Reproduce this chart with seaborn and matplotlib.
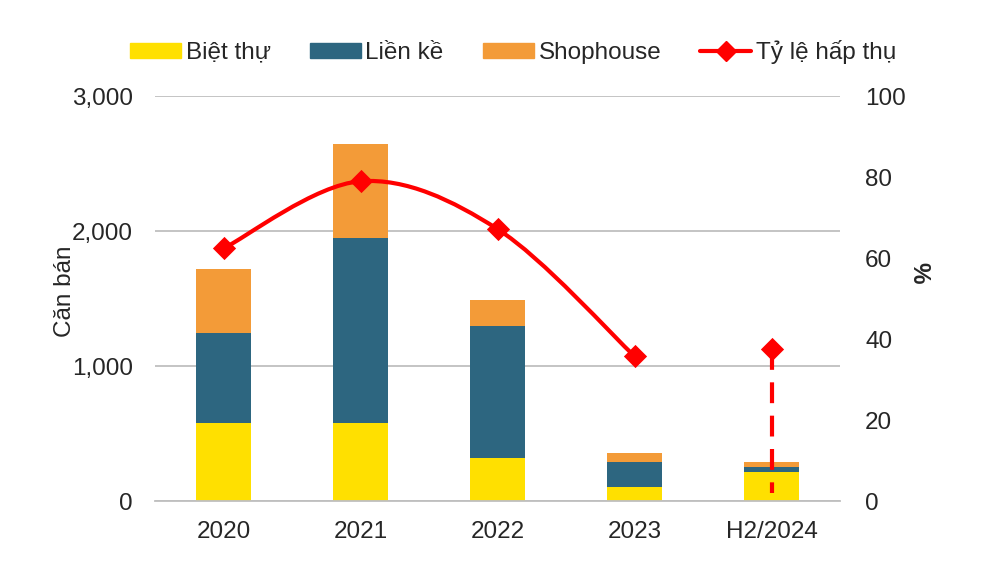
import numpy as np
import pandas as pd
import matplotlib
matplotlib.use("Agg")
import matplotlib.pyplot as plt
import seaborn as sns
from matplotlib.path import Path
from matplotlib.patches import PathPatch, Patch
from matplotlib.lines import Line2D

# Data
years = ["2020", "2021", "2022", "2023", "H2/2024"]
biet_thu = [580, 580, 318, 106, 212]
lien_ke = [662, 1371, 978, 185, 42]
shophouse = [477, 696, 193, 67, 35]
ty_le = [62.4, 79.0, 67.2, 35.8, 37.5]

c_yellow = "#FFE000"
c_blue = "#2D6680"
c_orange = "#F39B38"
c_red = "#FF0000"
c_grid = "#BFBFBF"
FS = 17.5

sns.set_style("white")
plt.rcParams["font.family"] = ["Liberation Sans", "DejaVu Sans"]

df = pd.DataFrame({"year": years, "biet_thu": biet_thu,
                   "lien_ke": lien_ke, "shophouse": shophouse})
df["top_lk"] = df["biet_thu"] + df["lien_ke"]
df["top_sh"] = df["top_lk"] + df["shophouse"]

fig, ax = plt.subplots(figsize=(10, 5.63), dpi=100)
fig.subplots_adjust(left=0.155, right=0.84, bottom=0.110, top=0.829)

# stacked bars: draw the totals first, then cover with the lower layers
for col, color in [("top_sh", c_orange), ("top_lk", c_blue), ("biet_thu", c_yellow)]:
    sns.barplot(data=df, x="year", y=col, color=color, width=0.4, saturation=1,
                linewidth=0, errorbar=None, ax=ax)

ax.set_xlim(-0.5, 4.5)
ax.set_ylim(0, 3000)
ax.set_yticks([0, 1000, 2000, 3000])
ax.set_yticklabels(["0", "1,000", "2,000", "3,000"])
ax.yaxis.grid(True, color=c_grid, lw=1.3)
ax.set_axisbelow(True)
for s in ["left", "right", "top"]:
    ax.spines[s].set_visible(False)
ax.spines["bottom"].set_color(c_grid)
ax.spines["bottom"].set_linewidth(1.3)
ax.tick_params(axis="y", length=0, pad=16, labelsize=FS)
ax.tick_params(axis="x", which="major", length=0, pad=14, labelsize=FS)
ax.set_xticks(np.arange(-0.5, 5, 1), minor=True)
ax.tick_params(axis="x", which="minor", length=7, color=c_grid, width=1.3)
ax.set_xlabel("")
ax.set_ylabel("Căn bán", fontsize=FS, rotation=90, va="center", ha="center",
              rotation_mode="anchor")
ax.yaxis.set_label_coords(-0.131, 0.518)

# absorption rate on the right axis
ax2 = ax.twinx()
ax2.set_ylim(0, 100)
ax2.set_yticks(range(0, 101, 20))
ax2.grid(False)
for s in ["left", "right", "top", "bottom"]:
    ax2.spines[s].set_visible(False)
ax2.tick_params(axis="y", length=0, pad=18, labelsize=FS)
ax2.set_ylabel("%", fontsize=FS, fontweight="bold", rotation=270, va="center",
               ha="center", rotation_mode="anchor")
ax2.yaxis.set_label_coords(1.115, 0.563)

# smoothed line through 2020-2023 (bezier, like an Excel smooth line)
pts = list(zip(range(4), ty_le[:4]))
verts = [pts[0]]
codes = [Path.MOVETO]
for i in range(3):
    p0 = pts[max(i - 1, 0)]
    p1 = pts[i]
    p2 = pts[i + 1]
    p3 = pts[min(i + 2, 3)]
    c1 = (p1[0] + (p2[0] - p0[0]) / 6, p1[1] + (p2[1] - p0[1]) / 6)
    c2 = (p2[0] - (p3[0] - p1[0]) / 6, p2[1] - (p3[1] - p1[1]) / 6)
    verts += [c1, c2, p2]
    codes += [Path.CURVE4] * 3
ax2.add_patch(PathPatch(Path(verts, codes), fill=False, edgecolor=c_red,
                        lw=3, capstyle="round", zorder=3))

# dashed drop line for H2/2024
ax2.plot([4, 4], [ty_le[4], 2], color=c_red, lw=3, dashes=(5, 3), zorder=3)

sns.scatterplot(x=list(range(len(years))), y=ty_le, marker="D", s=140,
                color=c_red, edgecolor=c_red, linewidth=0, zorder=4, ax=ax2)

handles = [Patch(color=c_yellow), Patch(color=c_blue), Patch(color=c_orange),
           Line2D([0], [0], color=c_red, lw=3, marker="D", markersize=10)]
labels = ["Biệt thự", "Liền kề", "Shophouse", "Tỷ lệ hấp thụ"]
fig.legend(handles, labels, loc="center", bbox_to_anchor=(0.513, 0.908), ncol=4,
           frameon=False, fontsize=FS, handlelength=2.1, handleheight=0.55,
           handletextpad=0.2, columnspacing=1.6)

fig.savefig("out.png", dpi=100)
